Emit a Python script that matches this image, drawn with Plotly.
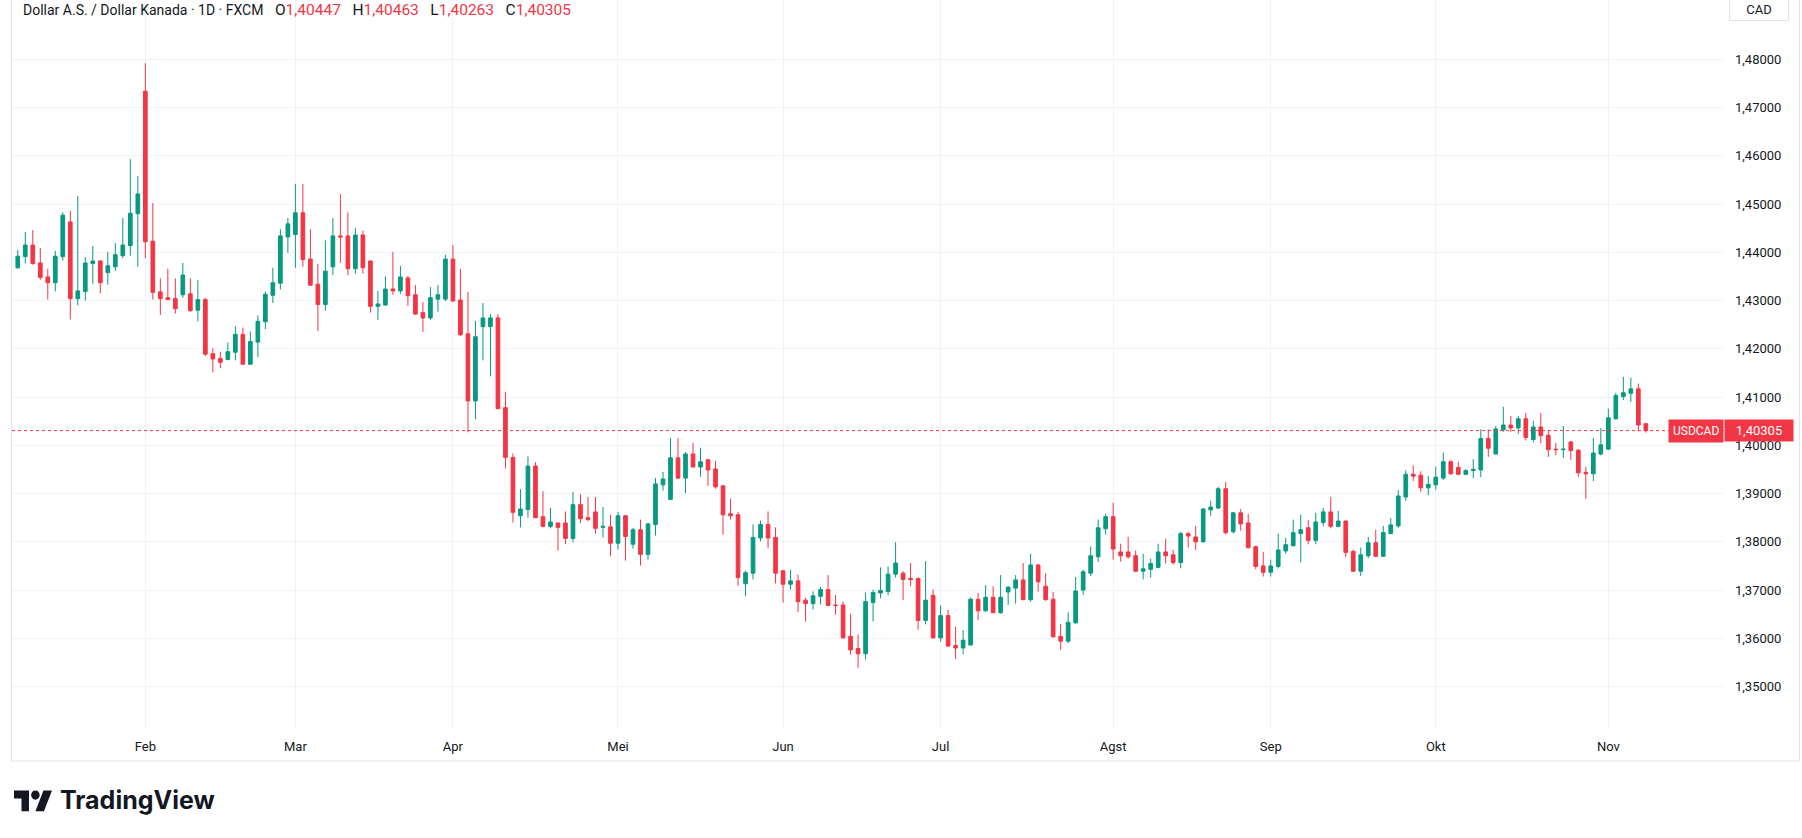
"""
USDCAD daily candles (FXCM) in a TradingView-style light layout.
Values read off a screenshot, one (open, high, low, close) row per trading day.
"""

import pandas as pd
import plotly.graph_objects as go

# ── 1. Data ─────────────────────────────────────────────────────────────────

# (open, high, low, close), weekdays from 9 Jan 2025
jan = [
    (1.4368, 1.4405, 1.4366, 1.4392), (1.4391, 1.4442, 1.4377, 1.4415),
    (1.4415, 1.4446, 1.4374, 1.4377), (1.4378, 1.4409, 1.4343, 1.4348),
    (1.4349, 1.4366, 1.4302, 1.4337), (1.4337, 1.4403, 1.4319, 1.4392),
    (1.4391, 1.4483, 1.4383, 1.4477), (1.4463, 1.4486, 1.4261, 1.4304),
    (1.4304, 1.4517, 1.4290, 1.4320), (1.4319, 1.4390, 1.4300, 1.4378),
    (1.4377, 1.4413, 1.4335, 1.4382), (1.4382, 1.4384, 1.4315, 1.4337),
    (1.4358, 1.4401, 1.4333, 1.4372), (1.4370, 1.4419, 1.4362, 1.4395),
    (1.4393, 1.4471, 1.4388, 1.4415), (1.4414, 1.4593, 1.4393, 1.4481),
    (1.4480, 1.4558, 1.4370, 1.4521),
]
feb = [
    (1.4734, 1.4792, 1.4388, 1.4422), (1.4423, 1.4502, 1.4302, 1.4317),
    (1.4318, 1.4346, 1.4270, 1.4304), (1.4306, 1.4366, 1.4301, 1.4302),
    (1.4304, 1.4346, 1.4273, 1.4283), (1.4312, 1.4378, 1.4306, 1.4353),
    (1.4314, 1.4346, 1.4277, 1.4279), (1.4280, 1.4343, 1.4257, 1.4302),
    (1.4302, 1.4306, 1.4185, 1.4189), (1.4190, 1.4201, 1.4151, 1.4179),
    (1.4180, 1.4194, 1.4160, 1.4172), (1.4178, 1.4213, 1.4176, 1.4194),
    (1.4193, 1.4247, 1.4176, 1.4230), (1.4230, 1.4244, 1.4168, 1.4168),
    (1.4168, 1.4236, 1.4168, 1.4215), (1.4214, 1.4269, 1.4183, 1.4257),
    (1.4256, 1.4319, 1.4241, 1.4313), (1.4311, 1.4368, 1.4295, 1.4337),
    (1.4336, 1.4448, 1.4323, 1.4434), (1.4432, 1.4471, 1.4399, 1.4459),
]
mar = [
    (1.4437, 1.4542, 1.4368, 1.4482), (1.4482, 1.4542, 1.4370, 1.4385),
    (1.4386, 1.4448, 1.4331, 1.4332), (1.4334, 1.4376, 1.4237, 1.4292),
    (1.4292, 1.4425, 1.4279, 1.4361), (1.4370, 1.4471, 1.4353, 1.4434),
    (1.4434, 1.4521, 1.4378, 1.4432), (1.4434, 1.4483, 1.4353, 1.4366),
    (1.4366, 1.4450, 1.4356, 1.4436), (1.4436, 1.4445, 1.4356, 1.4368),
    (1.4382, 1.4383, 1.4275, 1.4288), (1.4288, 1.4320, 1.4260, 1.4293),
    (1.4291, 1.4350, 1.4289, 1.4324), (1.4324, 1.4401, 1.4312, 1.4320),
    (1.4320, 1.4372, 1.4314, 1.4349), (1.4347, 1.4351, 1.4289, 1.4310),
    (1.4312, 1.4332, 1.4270, 1.4272), (1.4275, 1.4297, 1.4235, 1.4264),
    (1.4264, 1.4328, 1.4260, 1.4306), (1.4303, 1.4332, 1.4277, 1.4312),
    (1.4303, 1.4395, 1.4299, 1.4386),
]
apr = [
    (1.4386, 1.4415, 1.4298, 1.4299), (1.4301, 1.4366, 1.4227, 1.4229),
    (1.4231, 1.4318, 1.4027, 1.4092), (1.4092, 1.4258, 1.4054, 1.4225),
    (1.4246, 1.4295, 1.4176, 1.4264), (1.4246, 1.4272, 1.4143, 1.4264),
    (1.4264, 1.4272, 1.4075, 1.4076), (1.4078, 1.4111, 1.3952, 1.3975),
    (1.3975, 1.3983, 1.3840, 1.3861), (1.3854, 1.3909, 1.3830, 1.3868),
    (1.3867, 1.3977, 1.3850, 1.3957), (1.3957, 1.3965, 1.3850, 1.3850),
    (1.3852, 1.3905, 1.3830, 1.3832), (1.3832, 1.3870, 1.3828, 1.3841),
    (1.3839, 1.3840, 1.3782, 1.3830), (1.3839, 1.3863, 1.3795, 1.3807),
    (1.3807, 1.3903, 1.3799, 1.3877), (1.3877, 1.3899, 1.3839, 1.3848),
    (1.3850, 1.3893, 1.3843, 1.3846), (1.3862, 1.3893, 1.3817, 1.3828),
    (1.3830, 1.3872, 1.3809, 1.3832), (1.3831, 1.3856, 1.3770, 1.3797),
]
may = [
    (1.3797, 1.3862, 1.3784, 1.3854), (1.3854, 1.3856, 1.3761, 1.3811),
    (1.3795, 1.3829, 1.3786, 1.3825), (1.3825, 1.3846, 1.3751, 1.3774),
    (1.3774, 1.3839, 1.3763, 1.3837), (1.3836, 1.3932, 1.3813, 1.3920),
    (1.3918, 1.3945, 1.3906, 1.3930), (1.3888, 1.4015, 1.3887, 1.3974),
    (1.3974, 1.4015, 1.3930, 1.3932), (1.3932, 1.3986, 1.3901, 1.3982),
    (1.3982, 1.4005, 1.3955, 1.3955), (1.3955, 1.3995, 1.3935, 1.3966),
    (1.3970, 1.3972, 1.3916, 1.3949), (1.3951, 1.3968, 1.3910, 1.3914),
    (1.3916, 1.3918, 1.3815, 1.3856), (1.3858, 1.3889, 1.3846, 1.3854),
    (1.3856, 1.3862, 1.3709, 1.3726), (1.3713, 1.3740, 1.3687, 1.3736),
    (1.3735, 1.3836, 1.3722, 1.3809), (1.3808, 1.3844, 1.3801, 1.3836),
    (1.3836, 1.3863, 1.3787, 1.3808), (1.3809, 1.3830, 1.3714, 1.3735),
]
jun = [
    (1.3740, 1.3741, 1.3674, 1.3712), (1.3712, 1.3742, 1.3701, 1.3719),
    (1.3719, 1.3732, 1.3654, 1.3676), (1.3679, 1.3684, 1.3635, 1.3672),
    (1.3672, 1.3697, 1.3660, 1.3688), (1.3687, 1.3707, 1.3670, 1.3701),
    (1.3701, 1.3731, 1.3668, 1.3668), (1.3669, 1.3690, 1.3649, 1.3668),
    (1.3669, 1.3676, 1.3599, 1.3601), (1.3604, 1.3651, 1.3566, 1.3576),
    (1.3579, 1.3608, 1.3539, 1.3568), (1.3568, 1.3695, 1.3556, 1.3676),
    (1.3674, 1.3701, 1.3635, 1.3695), (1.3694, 1.3747, 1.3683, 1.3699),
    (1.3697, 1.3749, 1.3689, 1.3733), (1.3733, 1.3799, 1.3726, 1.3756),
    (1.3735, 1.3739, 1.3679, 1.3722), (1.3724, 1.3756, 1.3708, 1.3722),
    (1.3724, 1.3726, 1.3618, 1.3637), (1.3637, 1.3760, 1.3629, 1.3679),
    (1.3689, 1.3701, 1.3599, 1.3601),
]
jul = [
    (1.3601, 1.3668, 1.3593, 1.3647), (1.3647, 1.3659, 1.3582, 1.3584),
    (1.3585, 1.3624, 1.3557, 1.3580), (1.3580, 1.3617, 1.3567, 1.3596),
    (1.3586, 1.3685, 1.3586, 1.3681), (1.3681, 1.3694, 1.3638, 1.3657),
    (1.3657, 1.3710, 1.3655, 1.3685), (1.3685, 1.3708, 1.3652, 1.3653),
    (1.3653, 1.3731, 1.3651, 1.3685), (1.3696, 1.3708, 1.3669, 1.3706),
    (1.3704, 1.3731, 1.3672, 1.3721), (1.3721, 1.3756, 1.3679, 1.3680),
    (1.3680, 1.3775, 1.3676, 1.3752), (1.3752, 1.3754, 1.3697, 1.3717),
    (1.3708, 1.3735, 1.3678, 1.3680), (1.3681, 1.3696, 1.3602, 1.3603),
    (1.3604, 1.3630, 1.3576, 1.3594), (1.3594, 1.3654, 1.3590, 1.3633),
    (1.3632, 1.3727, 1.3630, 1.3698), (1.3700, 1.3742, 1.3690, 1.3738),
    (1.3735, 1.3790, 1.3729, 1.3771), (1.3769, 1.3846, 1.3758, 1.3829),
    (1.3827, 1.3858, 1.3815, 1.3852),
]
aug = [
    (1.3852, 1.3881, 1.3763, 1.3785), (1.3779, 1.3796, 1.3759, 1.3771),
    (1.3779, 1.3810, 1.3765, 1.3769), (1.3771, 1.3782, 1.3737, 1.3739),
    (1.3739, 1.3775, 1.3722, 1.3744), (1.3743, 1.3765, 1.3726, 1.3755),
    (1.3747, 1.3796, 1.3746, 1.3779), (1.3779, 1.3806, 1.3755, 1.3771),
    (1.3773, 1.3783, 1.3753, 1.3757), (1.3757, 1.3821, 1.3745, 1.3817),
    (1.3817, 1.3821, 1.3788, 1.3812), (1.3810, 1.3833, 1.3783, 1.3800),
    (1.3800, 1.3870, 1.3798, 1.3868), (1.3866, 1.3885, 1.3854, 1.3872),
    (1.3870, 1.3914, 1.3868, 1.3910), (1.3910, 1.3924, 1.3815, 1.3819),
    (1.3821, 1.3862, 1.3817, 1.3860), (1.3860, 1.3868, 1.3823, 1.3837),
    (1.3839, 1.3858, 1.3786, 1.3788), (1.3790, 1.3792, 1.3743, 1.3749),
    (1.3750, 1.3779, 1.3728, 1.3737),
]
sep = [
    (1.3737, 1.3763, 1.3728, 1.3750), (1.3749, 1.3817, 1.3745, 1.3783),
    (1.3781, 1.3808, 1.3775, 1.3794), (1.3792, 1.3846, 1.3790, 1.3819),
    (1.3817, 1.3856, 1.3757, 1.3825), (1.3829, 1.3845, 1.3795, 1.3803),
    (1.3803, 1.3860, 1.3795, 1.3841), (1.3840, 1.3870, 1.3832, 1.3862),
    (1.3862, 1.3893, 1.3828, 1.3832), (1.3832, 1.3864, 1.3830, 1.3843),
    (1.3843, 1.3844, 1.3768, 1.3778), (1.3780, 1.3784, 1.3737, 1.3739),
    (1.3739, 1.3788, 1.3729, 1.3773), (1.3771, 1.3810, 1.3766, 1.3798),
    (1.3798, 1.3825, 1.3769, 1.3770), (1.3770, 1.3833, 1.3769, 1.3819),
    (1.3817, 1.3849, 1.3816, 1.3835), (1.3833, 1.3907, 1.3829, 1.3895),
    (1.3893, 1.3948, 1.3885, 1.3940), (1.3940, 1.3958, 1.3926, 1.3936),
    (1.3938, 1.3946, 1.3903, 1.3912), (1.3912, 1.3936, 1.3897, 1.3919),
]
okt = [
    (1.3918, 1.3956, 1.3908, 1.3934), (1.3932, 1.3985, 1.3928, 1.3966),
    (1.3966, 1.3969, 1.3939, 1.3941), (1.3954, 1.3966, 1.3938, 1.3940),
    (1.3940, 1.3950, 1.3938, 1.3948), (1.3948, 1.3971, 1.3932, 1.3950),
    (1.3949, 1.4033, 1.3934, 1.4014), (1.4014, 1.4033, 1.3976, 1.3994),
    (1.3982, 1.4040, 1.3981, 1.4034), (1.4032, 1.4080, 1.4028, 1.4042),
    (1.4042, 1.4061, 1.4028, 1.4036), (1.4036, 1.4061, 1.4024, 1.4055),
    (1.4055, 1.4067, 1.4010, 1.4016), (1.4012, 1.4051, 1.4006, 1.4038),
    (1.4038, 1.4067, 1.4004, 1.4020), (1.4021, 1.4032, 1.3976, 1.3991),
    (1.3992, 1.4005, 1.3980, 1.3991), (1.3991, 1.4040, 1.3974, 1.3992),
    (1.4007, 1.4009, 1.3970, 1.3989), (1.3990, 1.3992, 1.3935, 1.3943),
    (1.3944, 1.3955, 1.3889, 1.3941), (1.3941, 1.4015, 1.3926, 1.3984),
    (1.3982, 1.4036, 1.3979, 1.4001),
]
nov = [
    (1.3992, 1.4076, 1.3990, 1.4057), (1.4055, 1.4109, 1.4053, 1.4103),
    (1.4101, 1.4142, 1.4094, 1.4109), (1.4108, 1.4140, 1.4090, 1.4117),
    (1.4117, 1.4128, 1.4029, 1.4042), (1.40447, 1.40463, 1.40263, 1.40305),
]

FIRST_DAY = "2025-01-09"

# first trading day of each month -> Indonesian month labels
MONTH_TICKS = ["2025-02-03", "2025-03-03", "2025-04-01", "2025-05-01", "2025-06-02",
               "2025-07-01", "2025-08-01", "2025-09-01", "2025-10-01", "2025-11-03"]
MONTH_LABELS = ["Feb", "Mar", "Apr", "Mei", "Jun", "Jul", "Agst", "Sep", "Okt", "Nov"]

# labelled price levels on the right scale
PRICE_TICKS = [1.35, 1.36, 1.37, 1.38, 1.39, 1.40, 1.41,
               1.42, 1.43, 1.44, 1.45, 1.46, 1.47, 1.48]

SYMBOL = "USDCAD"
TITLE = "Dollar A.S. / Dollar Kanada · 1D · FXCM"
CURRENCY = "CAD"

UP = "#089981"
DOWN = "#F23645"
TEXT = "#131722"
GRID = "#f0f3fa"
BORDER = "#e0e3eb"
FONT = "Trebuchet MS, Roboto, sans-serif"

rows = jan + feb + mar + apr + may + jun + jul + aug + sep + okt + nov
df = pd.DataFrame(rows, columns=["open", "high", "low", "close"])
# one candle per weekday, centred at noon so that bodies sit inside their day slot
df["date"] = pd.bdate_range(FIRST_DAY, periods=len(df)) + pd.Timedelta(hours=12)
last = df.iloc[-1]


def fmt(v):
    return f"{v:.5f}".replace(".", ",")


# ── 2. Figure geometry (pixels of the 1802x838 page) ────────────────────────

W, H = 1802, 838
ML, MR, MT, MB = 12, 78, 0, 109
PW, PH = W - ML - MR, H - MT - MB


def px(x):
    return (x - ML) / PW


def py(y):
    return 1 - (y - MT) / PH


# ── 3. Candles ──────────────────────────────────────────────────────────────

fig = go.Figure(
    go.Candlestick(
        x=df["date"],
        open=df["open"], high=df["high"], low=df["low"], close=df["close"],
        increasing=dict(line=dict(color=UP, width=1), fillcolor=UP),
        decreasing=dict(line=dict(color=DOWN, width=1), fillcolor=DOWN),
        whiskerwidth=0,
        name=SYMBOL,
        showlegend=False,
    )
)

# last price: dotted line + labels
fig.add_shape(type="line", xref="paper", yref="y", x0=0, x1=1,
              y0=last["close"], y1=last["close"],
              line=dict(color=DOWN, width=1, dash="dot"))
fig.add_annotation(xref="paper", yref="y", x=1, y=last["close"], xanchor="right",
                   text=SYMBOL, showarrow=False, bgcolor=DOWN, borderpad=4,
                   font=dict(color="white", size=12, family=FONT))
fig.add_annotation(xref="paper", yref="y", x=1, y=last["close"], xanchor="left",
                   text=fmt(last["close"]), showarrow=False,
                   bgcolor=DOWN, borderpad=3, width=62,
                   font=dict(color="white", size=13, family=FONT))

# header with OHLC of the last bar
ohlc = "".join(
    f"&nbsp;&nbsp;&nbsp;{k}<span style='color:{DOWN}'>{fmt(v)}</span>"
    for k, v in zip("OHLC", [last["open"], last["high"], last["low"], last["close"]])
)
fig.add_annotation(xref="paper", yref="paper", x=px(21), y=py(10),
                   xanchor="left", yanchor="middle", showarrow=False,
                   text=TITLE + f"<span style='font-size:15.5px'>{ohlc}</span>",
                   font=dict(color=TEXT, size=14, family=FONT))

# currency box above the price scale
fig.add_annotation(xref="paper", yref="paper", x=px(1759), y=py(9),
                   xanchor="center", yanchor="middle",
                   showarrow=False, text=CURRENCY, bordercolor=BORDER, borderwidth=1,
                   borderpad=3, bgcolor="white", width=52,
                   font=dict(color=TEXT, size=13, family=FONT))

# outer frame of the chart widget
for x0, y0, x1, y1 in [(11.5, 0, 11.5, 761), (11.5, 761, 1799.5, 761),
                       (1799.5, 0, 1799.5, 761)]:
    fig.add_shape(type="line", xref="paper", yref="paper",
                  x0=px(x0), y0=py(y0), x1=px(x1), y1=py(y1),
                  line=dict(color=BORDER, width=1))


# TradingView logo (bottom left)
def logo_pt(cx, cy):
    return px(14 + cx * 1.07), py(790.5 + (cy - 4) * 1.15)


def logo_path(points):
    pts = [logo_pt(*p) for p in points]
    return "M " + " L ".join(f"{a:.5f},{b:.5f}" for a, b in pts) + " Z"


fig.add_shape(type="path", xref="paper", yref="paper", line_width=0, fillcolor=TEXT,
              path=logo_path([(0, 4), (14, 4), (14, 22), (7, 22), (7, 11), (0, 11)]))
fig.add_shape(type="path", xref="paper", yref="paper", line_width=0, fillcolor=TEXT,
              path=logo_path([(20, 22), (27.5, 4), (35.5, 4), (28, 22)]))
c0, c1 = logo_pt(16, 4), logo_pt(24, 12)
fig.add_shape(type="circle", xref="paper", yref="paper", line_width=0, fillcolor=TEXT,
              x0=c0[0], y0=c0[1], x1=c1[0], y1=c1[1])
fig.add_annotation(xref="paper", yref="paper", x=px(58), y=py(800),
                   xanchor="left", yanchor="middle", showarrow=False,
                   text="<b>TradingView</b>",
                   font=dict(color=TEXT, size=25, family="Inter, Roboto, sans-serif"))

# ── 4. Layout ───────────────────────────────────────────────────────────────

fig.update_layout(
    width=W, height=H,
    margin=dict(l=ML, r=MR, t=MT, b=MB),
    paper_bgcolor="white", plot_bgcolor="white",
    separators=",.",
    font=dict(family=FONT, size=13, color=TEXT),
    hovermode=False,
)
fig.update_xaxes(
    type="date",
    range=["2025-01-08 17:30", "2025-11-24 22:00"],
    rangebreaks=[dict(bounds=["sat", "mon"])],
    rangeslider_visible=False,
    tickvals=[d + " 12:00" for d in MONTH_TICKS],
    ticktext=MONTH_LABELS,
    showgrid=True, gridcolor=GRID, gridwidth=1,
    showline=False, zeroline=False, ticks="",
    ticklabelstandoff=8,
    tickfont=dict(size=13, color=TEXT),
)
fig.update_yaxes(
    side="right",
    range=[1.3412, 1.4923],
    tickmode="array", tickvals=PRICE_TICKS, tickformat=".5f",
    showgrid=True, gridcolor=GRID, gridwidth=1,
    showline=False, zeroline=False, ticks="",
    ticklabelstandoff=10,
    tickfont=dict(size=13, color=TEXT),
)

# the page body has a default 8px margin; drop it so the figure fills the window
fig.write_html("out.html", config={"displayModeBar": False},
               post_script="document.body.style.margin = '0px';")
